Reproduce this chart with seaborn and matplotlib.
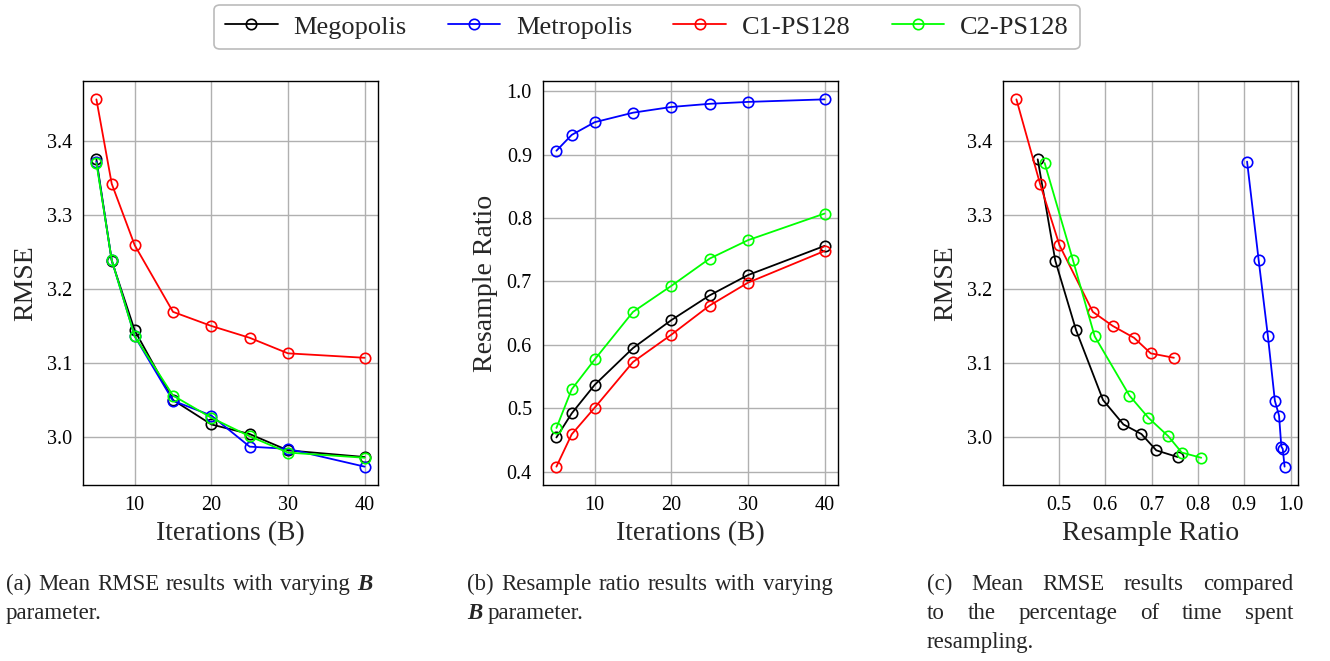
import numpy as np
import pandas as pd
import matplotlib
matplotlib.use("Agg")
import matplotlib.pyplot as plt
import seaborn as sns

# ---------------- data ----------------
iterations = [5, 7, 10, 15, 20, 25, 30, 40]
series_names = ["Megopolis", "Metropolis", "C1-PS128", "C2-PS128"]
series_colors = ["#000000", "#0000ff", "#ff0000", "#00ff00"]

rmse_megopolis = [3.375, 3.238, 3.144, 3.050, 3.017, 3.004, 2.982, 2.973]
rmse_metropolis = [3.372, 3.239, 3.136, 3.049, 3.029, 2.987, 2.984, 2.960]
rmse_c1 = [3.456, 3.342, 3.259, 3.169, 3.150, 3.134, 3.113, 3.107]
rmse_c2 = [3.370, 3.239, 3.136, 3.056, 3.026, 3.001, 2.979, 2.972]

ratio_megopolis = [0.454, 0.492, 0.537, 0.595, 0.639, 0.678, 0.710, 0.756]
ratio_metropolis = [0.906, 0.931, 0.951, 0.966, 0.975, 0.980, 0.983, 0.987]
ratio_c1 = [0.408, 0.459, 0.501, 0.573, 0.616, 0.662, 0.698, 0.748]
ratio_c2 = [0.469, 0.530, 0.577, 0.652, 0.693, 0.736, 0.765, 0.807]

rmse_ticks = [3.0, 3.1, 3.2, 3.3, 3.4]
ratio_ticks = [0.4, 0.5, 0.6, 0.7, 0.8, 0.9, 1.0]
ratio_xticks = [0.5, 0.6, 0.7, 0.8, 0.9, 1.0]
iter_ticks = [10, 20, 30, 40]

captions = {
    "a": [["(a) Mean RMSE results with varying ", ("B", "bi")], ["parameter."]],
    "b": [["(b) Resample ratio results with varying"], [("B", "bi"), " parameter."]],
    "c": [["(c) Mean RMSE results compared"], ["to the percentage of time spent"], ["resampling."]],
}

rmse_all = [rmse_megopolis, rmse_metropolis, rmse_c1, rmse_c2]
ratio_all = [ratio_megopolis, ratio_metropolis, ratio_c1, ratio_c2]

rows = []
for name, rm, ra in zip(series_names, rmse_all, ratio_all):
    for b, r1, r2 in zip(iterations, rm, ra):
        rows.append({"series": name, "B": b, "RMSE": r1, "Ratio": r2})
df = pd.DataFrame(rows)

# ---------------- style ----------------
sns.set_style("white")
plt.rcParams["font.family"] = ["Liberation Serif", "DejaVu Serif"]
plt.rcParams["mathtext.fontset"] = "custom"
plt.rcParams["mathtext.rm"] = "Liberation Serif"

W, H = 1330, 661
fig = plt.figure(figsize=(W / 100, H / 100), dpi=100)

def ax_rect(x0, x1, y0, y1):
    return [x0 / W, 1 - y1 / H, (x1 - x0) / W, (y1 - y0) / H]

ax1 = fig.add_axes(ax_rect(83, 378, 81, 485))
ax2 = fig.add_axes(ax_rect(543, 838, 81, 485))
ax3 = fig.add_axes(ax_rect(1003, 1298, 81, 485))

line_kw = dict(marker="o", markerfacecolor="none", markersize=7.5,
               markeredgewidth=1.2, linewidth=1.3, sort=False, estimator=None)

for name, col in zip(series_names, series_colors):
    sub = df[df["series"] == name]
    sns.lineplot(data=sub, x="B", y="RMSE", ax=ax1, color=col, markeredgecolor=col,
                 label=name, legend=False, **line_kw)
    sns.lineplot(data=sub, x="B", y="Ratio", ax=ax2, color=col, markeredgecolor=col,
                 legend=False, **line_kw)
    sns.lineplot(data=sub, x="Ratio", y="RMSE", ax=ax3, color=col, markeredgecolor=col,
                 legend=False, **line_kw)

for ax in (ax1, ax2, ax3):
    ax.grid(True, color="#b0b0b0", linewidth=1.0)
    ax.set_axisbelow(True)
    for sp in ax.spines.values():
        sp.set_color("black")
        sp.set_linewidth(1.0)
    ax.tick_params(axis="both", length=0, pad=8, labelsize=14.5, colors="black")

ax1.set_xticks(iter_ticks)
ax2.set_xticks(iter_ticks)
ax1.set_yticks(rmse_ticks)
ax3.set_yticks(rmse_ticks)
ax2.set_yticks(ratio_ticks)
ax3.set_xticks(ratio_xticks)

for ax in (ax1, ax2, ax3):
    for lab in ax.get_xticklabels() + ax.get_yticklabels():
        lab.set_fontfamily(["Liberation Serif", "DejaVu Serif"])

ax1.set_xlabel("Iterations (B)", fontsize=20, labelpad=4)
ax2.set_xlabel("Iterations (B)", fontsize=20, labelpad=4)
ax3.set_xlabel("Resample Ratio", fontsize=20, labelpad=4)
ax1.set_ylabel("RMSE", fontsize=20, labelpad=6)
ax2.set_ylabel("Resample Ratio", fontsize=20, labelpad=6)
ax3.set_ylabel("RMSE", fontsize=20, labelpad=6)

handles, labels = ax1.get_legend_handles_labels()
leg = fig.legend(handles, labels, loc="center", bbox_to_anchor=(647 / W, 1 - 27 / H),
                 ncol=4, fontsize=19, frameon=True, fancybox=True,
                 edgecolor="#aaaaaa", handlelength=2.0, handletextpad=0.6,
                 columnspacing=1.55, borderpad=0.4)
leg.get_frame().set_linewidth(1.2)

# ---------------- captions ----------------
fig.canvas.draw()
renderer = fig.canvas.get_renderer()
CAP_FS = 16.5

def seg_words(line):
    words = []
    for seg in line:
        if isinstance(seg, tuple):
            words.append((seg[0], seg[1]))
        else:
            for p in seg.split(" "):
                if p:
                    words.append((p, "n"))
    return words

def draw_caption(x0, y0, lines, width, line_h=29):
    sp = fig.text(0, 0, "a a", fontsize=CAP_FS, transform=None)
    sp2 = fig.text(0, 0, "aa", fontsize=CAP_FS, transform=None)
    space_w = sp.get_window_extent(renderer).width - sp2.get_window_extent(renderer).width
    sp.remove(); sp2.remove()
    for li, line in enumerate(lines):
        words = seg_words(line)
        texts = []
        for w, st in words:
            kw = dict(fontsize=CAP_FS, va="baseline", ha="left", transform=None)
            if st == "bi":
                kw.update(fontweight="bold", fontstyle="italic")
            texts.append(fig.text(0, 0, w, **kw))
        widths = [t.get_window_extent(renderer).width for t in texts]
        last = li == len(lines) - 1
        n = len(texts)
        if not last and n > 1:
            gap = (width - sum(widths)) / (n - 1)
        else:
            gap = space_w
        x = x0
        ybase = H - (y0 + li * line_h)
        for t, w in zip(texts, widths):
            t.set_position((x, ybase))
            x += w + gap

draw_caption(6, 590, captions["a"], 366)
draw_caption(467, 590, captions["b"], 366)
draw_caption(927, 590, captions["c"], 366)

fig.savefig("out.png", dpi=100)
